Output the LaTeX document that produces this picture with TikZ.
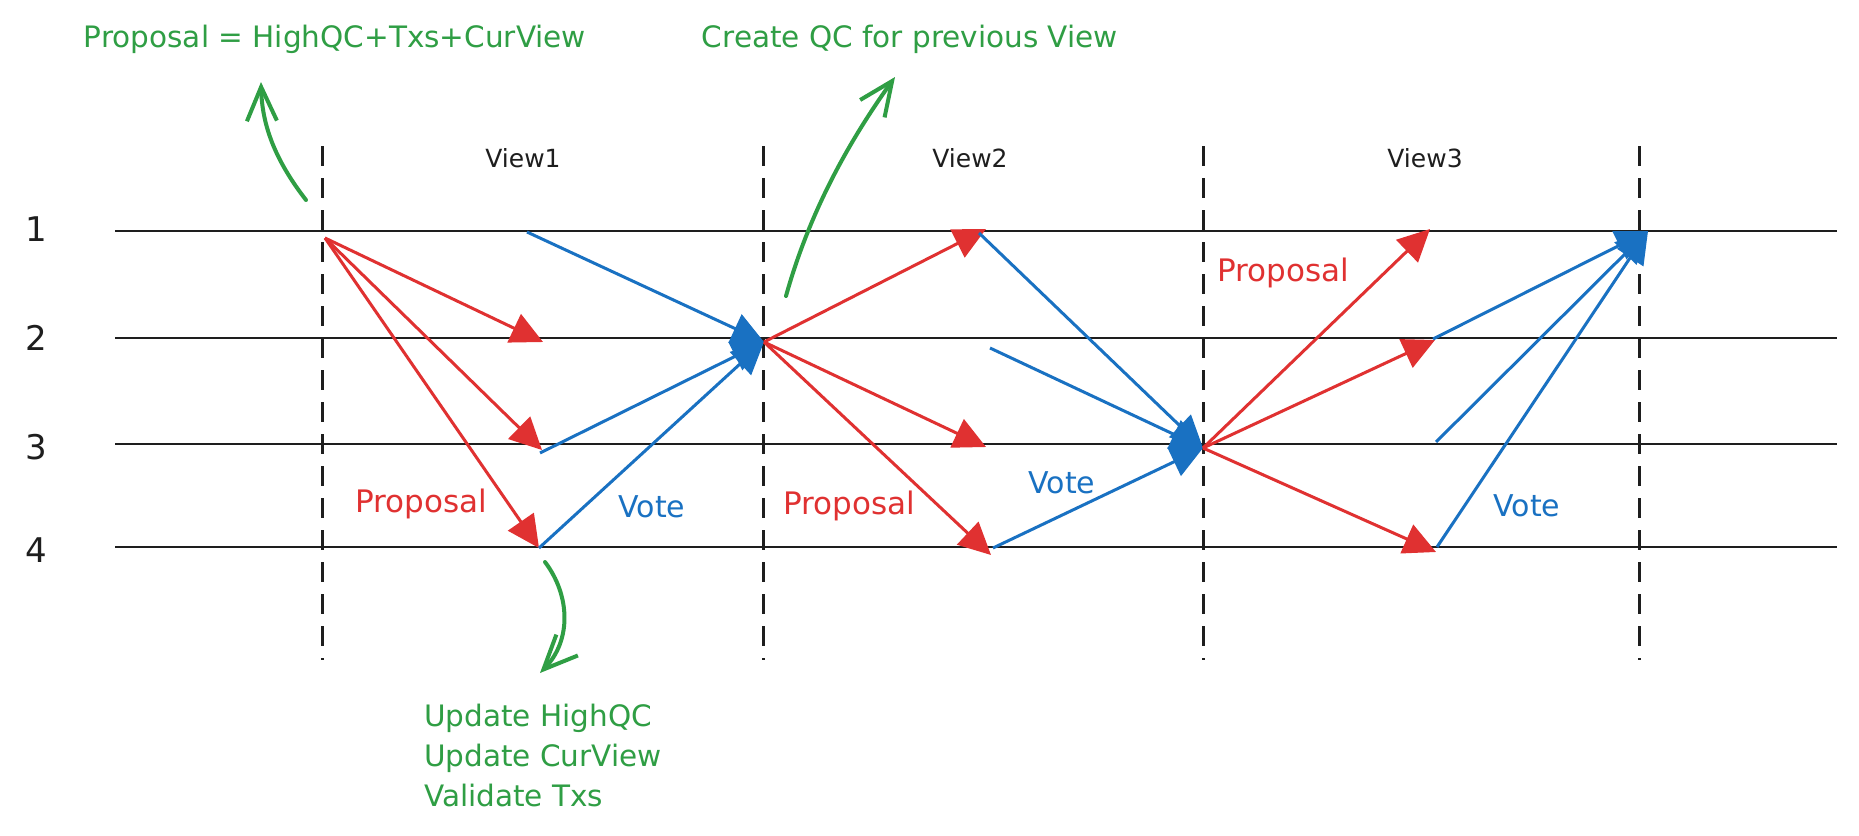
\documentclass[tikz,border=0pt]{standalone}
\usepackage{fontspec}
\setmainfont{DejaVu Sans}
\usetikzlibrary{arrows.meta}
\definecolor{exred}{HTML}{E03131}
\definecolor{exblue}{HTML}{1971C2}
\definecolor{exgreen}{HTML}{2F9E44}
\definecolor{exblack}{HTML}{1E1E1E}
\begin{document}
\begin{tikzpicture}[x=1pt,y=-1pt,
  lane/.style={draw=exblack,line width=2.6pt},
  divider/.style={draw=exblack,line width=3pt,dash pattern=on 20pt off 12pt},
  prop/.style={draw=exred,fill=exred,line width=3pt,-{Triangle[length=32pt,width=31pt]}},
  vote/.style={draw=exblue,fill=exblue,line width=3pt,-{Triangle[length=32pt,width=31pt]}},
  note/.style={draw=exgreen,line width=4pt,line cap=round,-{Straight Barb[length=34pt,width=30pt]}},
  rowlbl/.style={text=exblack,font=\fontsize{34}{40}\selectfont,inner sep=0pt},
  viewlbl/.style={text=exblack,font=\fontsize{25}{30}\selectfont,inner sep=0pt},
  proplbl/.style={text=exred,font=\fontsize{31}{34}\selectfont,inner sep=0pt},
  votelbl/.style={text=exblue,font=\fontsize{30}{34}\selectfont,inner sep=0pt},
  notelbl/.style={text=exgreen,font=\fontsize{29.5}{40}\selectfont,inner sep=0pt},
]
\useasboundingbox[fill=white] (0,0) rectangle (1859,835);

% lanes
\coordinate (L1a) at (115,231); \coordinate (L1b) at (1837,231);
\coordinate (L2a) at (115,338); \coordinate (L2b) at (1837,338);
\coordinate (L3a) at (115,444); \coordinate (L3b) at (1837,444);
\coordinate (L4a) at (115,547); \coordinate (L4b) at (1837,547);
\draw[lane] (L1a) -- (L1b);
\draw[lane] (L2a) -- (L2b);
\draw[lane] (L3a) -- (L3b);
\draw[lane] (L4a) -- (L4b);

% dividers
\coordinate (D1t) at (322,146); \coordinate (D1b) at (322,660);
\coordinate (D2t) at (763,146); \coordinate (D2b) at (763,660);
\coordinate (D3t) at (1203,146); \coordinate (D3b) at (1203,660);
\coordinate (D4t) at (1639,146); \coordinate (D4b) at (1639,660);
\draw[divider] (D1t) -- (D1b);
\draw[divider] (D2t) -- (D2b);
\draw[divider] (D3t) -- (D3b);
\draw[divider] (D4t) -- (D4b);

% row labels
\node[rowlbl] (r1) at (36,229) {1};
\node[rowlbl] (r2) at (36,338) {2};
\node[rowlbl] (r3) at (36,447) {3};
\node[rowlbl] (r4) at (36,550) {4};

% view labels
\node[viewlbl] (v1) at (523,158) {View1};
\node[viewlbl] (v2) at (970,158) {View2};
\node[viewlbl] (v3) at (1425,158) {View3};

% ---- View1
\coordinate (p1s) at (325,238);
\coordinate (p1t2) at (543,342);
\coordinate (p1t3) at (542,450);
\coordinate (p1t4) at (539,548);
\draw[prop] (p1s) -- (p1t2);
\draw[prop] (p1s) -- (p1t3);
\draw[prop] (p1s) -- (p1t4);
\coordinate (qc1) at (764,342);
\coordinate (b1s1) at (527,232);
\coordinate (b1s3) at (540,453);
\coordinate (b1s4) at (539,548);
\draw[vote] (b1s1) -- (qc1);
\draw[vote] (b1s3) -- (qc1);
\draw[vote] (b1s4) -- (qc1);

% ---- View2
\coordinate (p2t1) at (986,229);
\coordinate (p2t3) at (986,447);
\coordinate (p2t4) at (991,555);
\draw[prop] (qc1) -- (p2t1);
\draw[prop] (qc1) -- (p2t3);
\draw[prop] (qc1) -- (p2t4);
\coordinate (qc2) at (1203,448);
\coordinate (b2s1) at (979,233);
\coordinate (b2s2) at (990,348);
\coordinate (b2s4) at (993,548);
\draw[vote] (b2s1) -- (qc2);
\draw[vote] (b2s2) -- (qc2);
\draw[vote] (b2s4) -- (qc2);

% ---- View3
\coordinate (p3t1) at (1430,229);
\coordinate (p3t2) at (1435,340);
\coordinate (p3t4) at (1436,552);
\draw[prop] (qc2) -- (p3t1);
\draw[prop] (qc2) -- (p3t2);
\draw[prop] (qc2) -- (p3t4);
\coordinate (qc3) at (1648,231);
\coordinate (b3s2) at (1433,339);
\coordinate (b3s3) at (1436,442);
\coordinate (b3s4) at (1437,547);
\draw[vote] (b3s2) -- (qc3);
\draw[vote] (b3s3) -- (qc3);
\draw[vote] (b3s4) -- (qc3);

% labels
\node[proplbl] (pl1) at (421,504) {Proposal};
\node[proplbl] (pl2) at (849,506) {Proposal};
\node[proplbl] (pl3) at (1283,273) {Proposal};
\node[votelbl] (vl1) at (652,507) {Vote};
\node[votelbl] (vl2) at (1062,483) {Vote};
\node[votelbl] (vl3) at (1527,506) {Vote};

% notes
\node[notelbl] (n1) at (335,39) {Proposal = HighQC+Txs+CurView};
\node[notelbl] (n2) at (910,39) {Create QC for previous View};
\node[notelbl,align=left,anchor=west] (n3) at (424,755) {Update HighQC\\Update CurView\\Validate Txs};

\coordinate (g1s) at (306,200); \coordinate (g1e) at (261,82);
\coordinate (g2s) at (786,296); \coordinate (g2e) at (895,77);
\coordinate (g3s) at (545,562); \coordinate (g3e) at (540,673);
\draw[note] (g1s) .. controls (275,160) and (262,125) .. (g1e);
\draw[note] (g2s) .. controls (810,210) and (850,140) .. (g2e);
\draw[note] (g3s) .. controls (570,595) and (572,640) .. (g3e);
\end{tikzpicture}
\end{document}
